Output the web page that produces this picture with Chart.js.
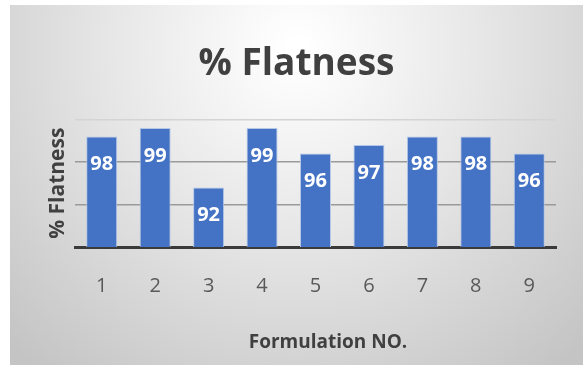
<!DOCTYPE html>
<html>
<head>
<meta charset="utf-8">
<script src="https://cdn.jsdelivr.net/npm/chart.js@4/dist/chart.umd.min.js"></script>
<style>
    html, body { margin: 0; padding: 0; background: #ffffff; }
    #wrap { position: absolute; left: 10px; top: 5px; width: 573px; height: 360px; }
</style>
</head>
<body>
<div id="wrap"><canvas id="chart-flatness" width="573" height="360"></canvas></div>
<script>
// datos del gráfico
const formulaciones = ["1", "2", "3", "4", "5", "6", "7", "8", "9"]
const flatness = [98, 99, 92, 99, 96, 97, 98, 98, 96]
const ejeY = { min: 85, max: 100, paso: 5 }

const GRIS_TEXTO = "#595959"
const GRIS_TITULO = "#404040"
const FUENTE = "'Open Sans', 'DejaVu Sans', sans-serif"

// fondo degradado tipo Excel
const fondoPlugin = {
    id: "fondo",
    beforeDraw(chart) {
        const { ctx, width, height } = chart
        const g = ctx.createRadialGradient(width * 0.5, height * 0.12, 10, width * 0.5, height * 0.12, width * 0.72)
        g.addColorStop(0, "#ffffff")
        g.addColorStop(0.45, "#e6e6e6")
        g.addColorStop(1, "#c4c4c4")
        ctx.save()
        ctx.fillStyle = g
        ctx.fillRect(0, 0, width, height)
        ctx.restore()
    }
}

// etiquetas de valor dentro de la barra + título del eje X
const etiquetasPlugin = {
    id: "etiquetas",
    afterDatasetsDraw(chart) {
        const { ctx } = chart
        const meta = chart.getDatasetMeta(0)
        ctx.save()
        ctx.fillStyle = "#ffffff"
        ctx.font = "bold 20px " + FUENTE
        ctx.textAlign = "center"
        ctx.textBaseline = "middle"
        meta.data.forEach((bar, i) => {
            ctx.fillText(String(flatness[i]), bar.x, bar.y + 28)
        })

        ctx.fillStyle = GRIS_TITULO
        ctx.font = "bold 19px " + FUENTE
        ctx.fillText("Formulation NO.", 318, 338)
        ctx.restore()
    }
}

new Chart(document.getElementById("chart-flatness"), {
    type: "bar",
    data: {
        labels: formulaciones,
        datasets: [{
            data: flatness,
            backgroundColor: "#4472c4",
            borderColor: "#b4c7e7",
            borderWidth: 1,
            barPercentage: 0.58,
            categoryPercentage: 1
        }]
    },
    options: {
        responsive: false,
        animation: false,
        layout: { padding: 0 },
        plugins: {
            legend: { display: false },
            tooltip: { enabled: false },
            title: {
                display: true,
                text: "% Flatness",
                color: GRIS_TITULO,
                font: { family: FUENTE, size: 37, weight: "bold" },
                padding: { top: 37, bottom: 33 }
            }
        },
        scales: {
            x: {
                grid: { display: false },
                border: { display: true, color: "#3a3a3a", width: 3 },
                ticks: {
                    color: GRIS_TEXTO,
                    font: { family: FUENTE, size: 20 },
                    padding: 19
                },
                afterFit(scale) { scale.height = 118 }
            },
            y: {
                min: ejeY.min,
                max: ejeY.max,
                ticks: { display: false, stepSize: ejeY.paso },
                border: { display: false },
                grid: {
                    drawTicks: false,
                    lineWidth: 1.5,
                    color: c => c.tick.value === ejeY.min ? "rgba(0,0,0,0)"
                        : c.tick.value === ejeY.max ? "#d4d4d4" : "#9a9a9a"
                },
                title: {
                    display: true,
                    text: "% Flatness",
                    color: GRIS_TITULO,
                    font: { family: FUENTE, size: 21, weight: "bold" },
                    padding: { top: 35, bottom: 0 }
                },
                afterFit(scale) { scale.width = 65 }
            },
            // margen derecho del área de trazado
            yDer: {
                position: "right",
                ticks: { display: false },
                grid: { display: false },
                border: { display: false },
                afterFit(scale) { scale.width = 27 }
            }
        }
    },
    plugins: [fondoPlugin, etiquetasPlugin]
})
</script>
</body>
</html>
